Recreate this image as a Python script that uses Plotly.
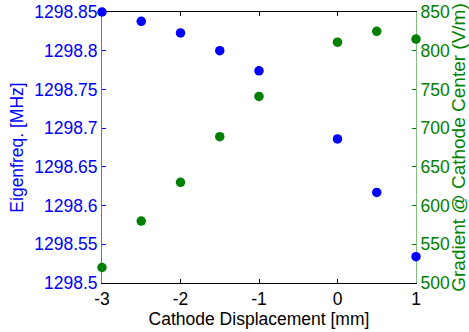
import plotly.graph_objects as go

displacement = [-3, -2.5, -2, -1.5, -1, 0, 0.5, 1]
eigenfreq = [1298.850, 1298.838, 1298.823, 1298.800, 1298.774, 1298.686, 1298.617, 1298.534]
gradient = [520, 580, 630, 689, 741, 811, 825, 815]

x_ticks = [-3, -2, -1, 0, 1]
x_ticktext = ["-3", "-2", "-1", "0", "1"]
y1_ticks = [1298.5, 1298.55, 1298.6, 1298.65, 1298.7, 1298.75, 1298.8, 1298.85]
y1_ticktext = ["1298.5", "1298.55", "1298.6", "1298.65", "1298.7", "1298.75", "1298.8", "1298.85"]
y2_ticks = [500, 550, 600, 650, 700, 750, 800, 850]
y2_ticktext = [str(v) for v in y2_ticks]

FONT = "Liberation Sans, Arial, sans-serif"
FS = 17.5
BLUE = "rgb(0,0,255)"
GREEN = "rgb(0,128,0)"

fig = go.Figure()
fig.add_trace(go.Scatter(x=displacement, y=eigenfreq, mode="markers",
                         marker=dict(color=BLUE, size=9.5, line=dict(width=0)),
                         cliponaxis=False, yaxis="y", showlegend=False))
fig.add_trace(go.Scatter(x=displacement, y=gradient, mode="markers",
                         marker=dict(color=GREEN, size=9.5, line=dict(width=0)),
                         cliponaxis=False, yaxis="y2", showlegend=False))

fig.update_layout(
    width=469, height=332,
    margin=dict(l=102, r=53, t=12, b=49, autoexpand=False),
    paper_bgcolor="white", plot_bgcolor="white",
    font=dict(family=FONT, size=FS, color="black"),
    xaxis=dict(range=[-3, 1], tickvals=x_ticks, ticktext=x_ticktext,
               ticks="inside", ticklen=4, tickcolor="black",
               showline=True, linecolor="black", linewidth=1, mirror="ticks",
               showgrid=False, zeroline=False, layer="below traces", automargin=False,
               tickfont=dict(family=FONT, size=FS, color="black"),
               title=dict(text="Cathode Displacement [mm]", standoff=2,
                          font=dict(family=FONT, size=FS, color="black"))),
    yaxis=dict(range=[1298.5, 1298.85], tickvals=y1_ticks, ticktext=y1_ticktext,
               ticks="inside", ticklen=4, tickcolor=BLUE,
               showline=True, linecolor="rgb(100,100,255)", linewidth=1,
               showgrid=False, zeroline=False, layer="below traces", automargin=False,
               tickfont=dict(family=FONT, size=FS, color=BLUE),
               title=dict(text="Eigenfreq. [MHz]", standoff=6,
                          font=dict(family=FONT, size=FS, color=BLUE))),
    yaxis2=dict(range=[500, 850], tickvals=y2_ticks, ticktext=y2_ticktext,
                overlaying="y", side="right", anchor="x",
                ticks="inside", ticklen=4, tickcolor=GREEN,
                showline=True, linecolor="rgb(128,192,128)", linewidth=1,
                showgrid=False, zeroline=False, layer="below traces", automargin=False,
                tickfont=dict(family=FONT, size=FS, color=GREEN),
                title=dict(text="Gradient @ Cathode Center (V/m)", standoff=3,
                           font=dict(family=FONT, size=19, color=GREEN))),
)

fig.write_html("out.html")
